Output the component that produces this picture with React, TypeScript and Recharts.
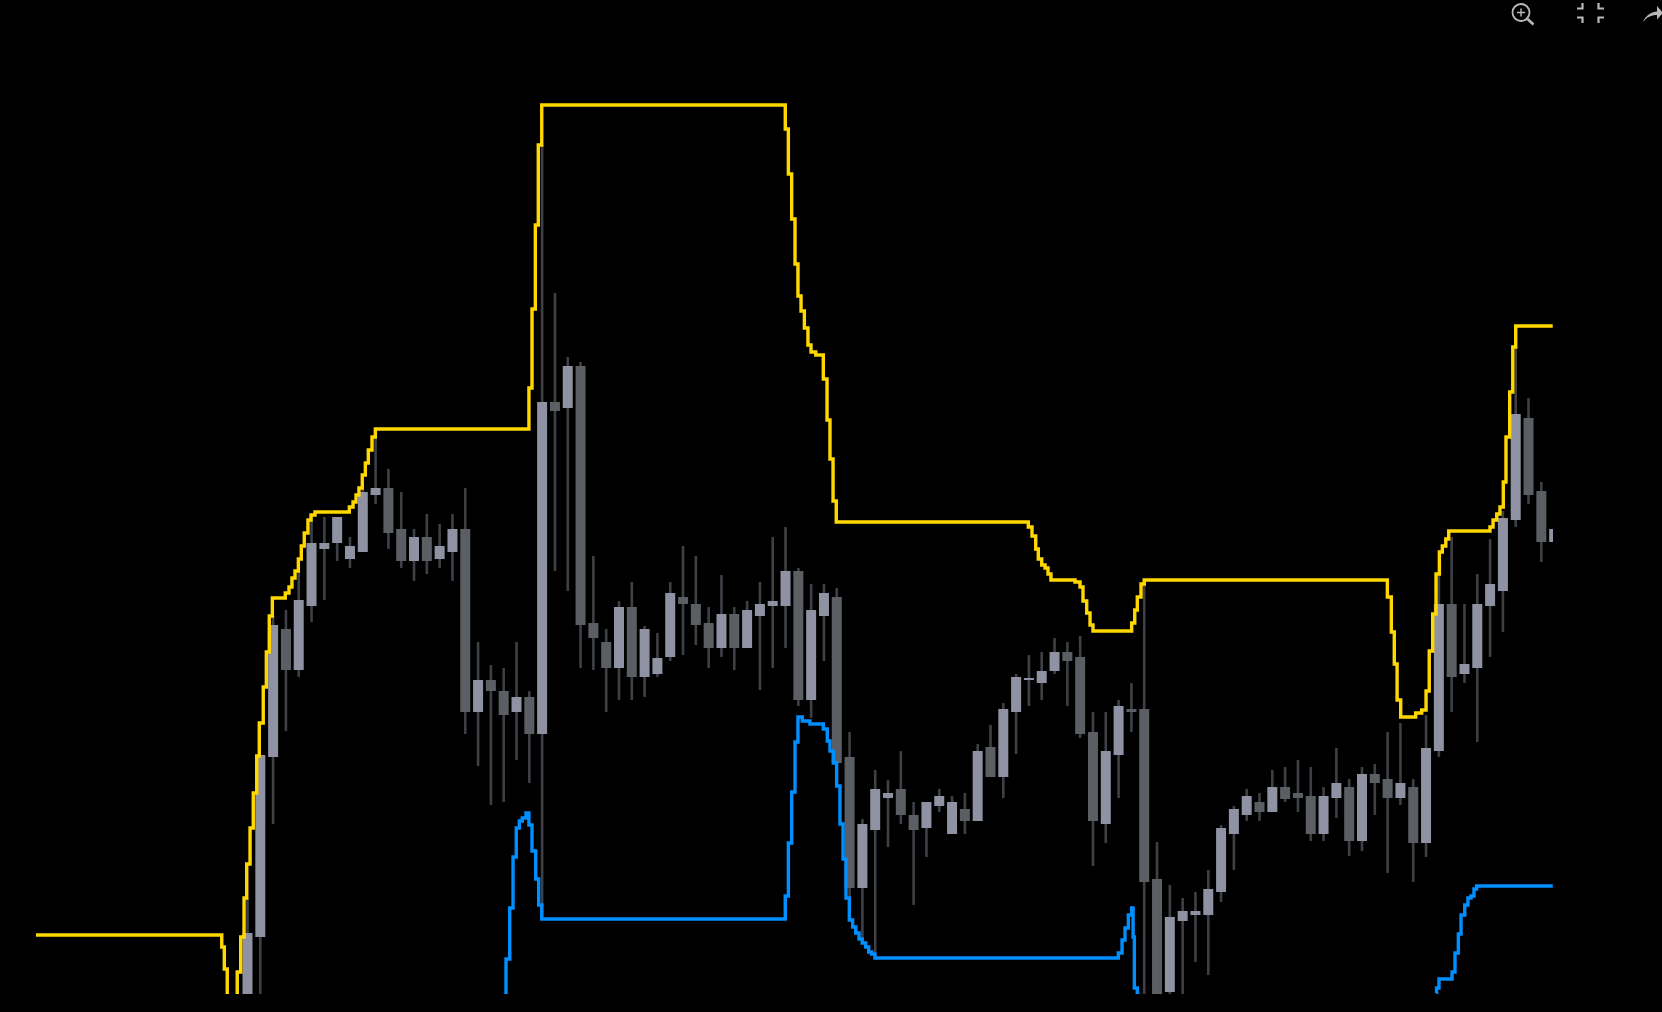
import { Bar, ComposedChart, Line, XAxis, YAxis } from "recharts";

const opens = [
  1.8, 7.5, 25.5, 38.3, 34.2, 40.6, 46.3, 46.9, 45.3, 46.0, 51.7, 52.4, 48.3, 45.1, 47.5, 45.3, 46.0, 48.3, 30.0, 33.2,
  32.1, 30.0, 31.5, 27.8, 61.0, 60.4, 64.6, 38.9, 37.0, 34.4, 40.5, 33.5, 33.8, 35.5, 41.5, 40.8, 38.9, 36.4, 39.8, 36.4,
  39.6, 40.6, 40.6, 44.1, 31.2, 39.6, 41.5, 25.5, 12.4, 18.2, 21.4, 22.3, 19.7, 18.4, 20.6, 17.8, 20.3, 19.1, 26.5, 23.5,
  30.0, 33.2, 32.9, 34.1, 36.0, 35.5, 28.0, 18.8, 25.7, 30.3, 30.3, 13.3, 2.0, 9.1, 9.7, 9.7, 12.0, 17.8, 19.7, 21.0,
  20.0, 22.5, 21.9, 21.6, 17.8, 21.4, 22.5, 17.1, 23.8, 23.3, 21.4, 22.5, 16.9, 26.1, 40.8, 33.8, 34.4, 40.6, 42.1, 49.2,
  59.4, 52.1, 47.0,
];
const closes = [
  7.9, 25.7, 38.7, 34.2, 41.2, 46.9, 46.9, 49.5, 46.6, 52.0, 52.4, 47.9, 45.1, 47.5, 45.1, 46.6, 48.3, 30.0, 33.2, 32.1,
  29.7, 31.5, 27.8, 61.0, 60.1, 64.6, 38.7, 37.4, 34.4, 40.5, 33.5, 38.3, 35.4, 41.9, 40.8, 38.7, 36.4, 39.8, 36.4, 40.2,
  40.8, 41.1, 44.1, 31.2, 40.2, 41.9, 24.9, 12.4, 18.8, 22.3, 21.9, 19.7, 18.2, 21.0, 21.6, 21.0, 19.1, 26.1, 23.5, 30.3,
  33.5, 33.4, 34.1, 36.0, 35.1, 27.8, 19.1, 26.1, 30.6, 30.0, 13.0, 1.8, 9.5, 10.1, 10.1, 12.3, 18.4, 20.3, 21.6, 20.0,
  22.5, 21.3, 21.4, 17.8, 21.6, 22.9, 17.1, 23.8, 22.9, 21.4, 22.9, 16.9, 26.4, 40.8, 33.5, 34.8, 40.8, 42.8, 49.4, 59.8,
  51.7, 47.0, 48.3,
];
const highs = [
  11.4, 25.7, 39.6, 40.2, 44.0, 49.7, 49.5, 49.5, 47.5, 52.4, 57.9, 54.3, 52.0, 48.3, 49.8, 48.8, 49.8, 52.4, 37.0, 34.7,
  34.4, 37.0, 32.1, 86.7, 71.9, 65.5, 65.0, 45.6, 38.3, 41.1, 43.0, 38.6, 37.9, 43.0, 46.6, 45.6, 40.5, 43.7, 40.5, 41.1,
  43.0, 47.5, 48.5, 44.4, 42.8, 42.8, 42.4, 28.0, 19.3, 24.2, 23.2, 26.1, 21.0, 21.0, 22.3, 21.6, 21.9, 26.8, 28.7, 30.9,
  33.8, 35.7, 36.0, 37.4, 37.0, 37.6, 30.0, 30.0, 31.2, 32.9, 43.2, 17.0, 12.7, 11.4, 12.0, 14.2, 18.7, 20.6, 22.3, 21.9,
  24.2, 24.5, 25.2, 24.5, 22.5, 26.4, 23.3, 24.5, 24.8, 28.0, 28.9, 23.3, 29.7, 43.7, 47.5, 40.8, 43.8, 47.3, 50.1, 66.5,
  61.4, 53.0, 48.3,
];
const lows = [
  1.8, 1.8, 18.8, 28.1, 33.5, 39.0, 41.2, 45.1, 44.4, 46.0, 50.8, 46.3, 44.4, 43.1, 43.8, 44.4, 43.1, 27.8, 24.6, 20.7,
  21.0, 25.2, 22.9, 9.5, 44.1, 42.1, 34.4, 34.2, 30.0, 31.2, 31.2, 31.5, 33.5, 35.1, 35.7, 36.7, 34.4, 35.5, 34.2, 36.4,
  32.2, 34.4, 36.4, 30.6, 29.4, 35.1, 24.9, 11.4, 7.5, 6.0, 16.5, 18.8, 10.7, 15.5, 20.0, 17.8, 17.8, 19.1, 23.5, 21.4,
  25.8, 30.6, 31.2, 33.8, 30.6, 27.4, 14.6, 16.9, 21.4, 28.0, 1.8, 1.8, 1.8, 1.8, 5.0, 3.7, 11.0, 14.2, 19.1, 19.1,
  20.0, 21.0, 20.0, 17.1, 17.1, 19.4, 15.6, 16.1, 19.7, 13.9, 20.7, 13.0, 15.5, 25.5, 30.0, 32.9, 27.0, 35.5, 38.0, 48.5,
  50.8, 45.0, 47.0,
];

// upper channel, x is in bars (four samples a bar), null where it leaves the view
const upperBars = [
  -16.51, -2.01, -1.81, -1.58, -1.2, -0.86, -0.8, -0.53, -0.27, -0.06, 0.2, 0.45, 0.72, 0.92, 1.23, 1.47, 1.7, 1.94,
  2.95, 3.24, 3.47, 3.71, 3.97, 4.2, 4.43, 4.72, 4.96, 5.27, 7.95, 8.24, 8.47, 8.7, 8.96, 9.2, 9.43, 9.72, 9.98,
  21.97, 22.21, 22.47, 22.7, 22.97, 41.98, 42.22, 42.48, 42.74, 42.97, 43.21, 43.47, 43.75, 43.99, 44.36, 44.95,
  45.24, 45.47, 45.71, 45.96, 60.95, 61.24, 61.53, 61.73, 62.0, 62.26, 62.49, 62.72, 64.6, 64.99, 65.22, 65.51,
  65.77, 66.0, 69.02, 69.26, 69.46, 69.75, 70.0, 88.98, 89.29, 89.52, 89.74, 90.02, 91.19, 91.66, 92.0, 92.25,
  92.52, 92.78, 93.04, 93.27, 93.54, 93.77, 96.99, 97.23, 97.52, 97.77, 98.03, 98.24, 98.53, 98.77, 99.0, 101.89,
];
const upperPrices = [
  7.7, 6.5, 4.3, 1.8, null, 1.8, 4.0, 7.5, 11.4, 14.8, 18.4, 21.9, 25.6, 28.9, 32.5, 36.0, 39.6, 41.4,
  41.9, 42.5, 43.4, 44.1, 45.3, 46.6, 47.9, 49.2, 49.7, 50.0, 50.5, 51.0, 51.7, 52.4, 53.7, 54.9, 56.2, 57.5, 58.3,
  62.4, 70.3, 78.7, 86.7, 90.7, 88.3, 83.8, 79.3, 74.8, 71.6, 70.1, 68.4, 66.7, 66.0, 65.7, 63.3,
  59.2, 55.3, 51.1, 49.0, 48.5, 47.6, 46.3, 45.3, 44.7, 44.4, 43.8, 43.2, 43.0, 42.5, 41.1, 39.9,
  38.7, 38.1, 38.9, 40.2, 41.5, 42.8, 43.2, 41.5, 38.0, 34.8, 31.2, 29.5, 29.9, 30.2, 32.1, 36.1,
  39.8, 43.8, 46.0, 46.6, 47.3, 48.1, 48.5, 49.2, 49.8, 50.5, 53.0, 57.5, 62.0, 66.5, 68.6, 68.6,
];

// lower channel
const lowerBars = [
  20.1, 20.18, 20.47, 20.73, 20.98, 21.22, 21.45, 21.74, 21.97, 22.21, 22.5, 22.73, 22.97, 41.98, 42.22, 42.48, 42.74,
  42.97, 43.31, 43.91, 44.95, 45.26, 45.47, 45.73, 45.99, 46.25, 46.49, 46.72, 46.98, 47.24, 47.48, 47.74, 47.99,
  48.26, 48.49, 48.73, 48.98, 67.98, 68.27, 68.5, 68.76, 69.02, 69.13, 69.23, 69.46, 69.62, 80.0, 92.78, 92.82, 93.01,
  94.03, 94.26, 94.52, 94.73, 95.02, 95.27, 95.51, 95.74, 95.95, 101.89,
];
const lowerPrices = [
  1.8, 5.3, 10.4, 15.5, 18.4, 19.1, 19.4, 19.9, 18.7, 16.1, 13.3, 10.7, 9.3, 11.6, 16.9, 22.0, 27.0,
  29.5, 29.1, 28.8, 28.3, 27.1, 26.1, 24.9, 22.6, 18.8, 15.3, 11.4, 9.2, 8.5, 7.9, 7.3, 6.9,
  6.5, 6.0, 5.8, 5.4, 5.9, 7.2, 8.4, 9.7, 10.4, 7.5, 2.4, 1.9, 1.9, null, 1.9, 2.4, 3.3,
  4.0, 5.9, 7.8, 9.7, 10.7, 11.4, 11.6, 12.3, 12.6, 12.6,
];

const candles = opens.map((open, i) => ({
  bar: i,
  open,
  close: closes[i],
  high: highs[i],
  low: lows[i],
}));
const upperLine = upperBars.map((bar, i) => ({ bar, price: upperPrices[i] }));
const lowerLine = lowerBars.map((bar, i) => ({ bar, price: lowerPrices[i] }));

const UP_BODY = "#8e92a2";
const DOWN_BODY = "#5b5e63";
const WICK = "#3f4046";
const BODY_WIDTH = 10;
const WICK_WIDTH = 2.6;

// Bar gives the low-high rect, the body is placed inside it.
// The bar width comes out tiny because the line samples share the x axis, so only its centre is used.
const Candle = (props: any) => {
  const { x, y, width, height, payload } = props;
  const { open, close, high, low } = payload;
  const perUnit = height / (high - low);
  const bodyTop = y + (high - Math.max(open, close)) * perUnit;
  const bodyHeight = Math.max(Math.abs(open - close) * perUnit, 1.5);
  const center = x + width / 2;
  return (
    <g>
      <rect x={center - WICK_WIDTH / 2} y={y} width={WICK_WIDTH} height={height} fill={WICK} />
      <rect
        x={center - BODY_WIDTH / 2}
        y={bodyTop}
        width={BODY_WIDTH}
        height={bodyHeight}
        fill={close >= open ? UP_BODY : DOWN_BODY}
      />
    </g>
  );
};

const Toolbar = () => (
  <svg
    width={1662}
    height={40}
    style={{ position: "absolute", left: 0, top: 0 }}
    fill="none"
    stroke="#b9b9b9"
  >
    <circle cx={1521} cy={12.5} r={8.5} strokeWidth={1.8} />
    <path d="M1517 12.5h8M1521 8.5v8" strokeWidth={1.4} />
    <path d="M1527.5 19l6 5.5" strokeWidth={2.6} />
    <path
      d="M1577 8.5h5.5v-5.5M1604 8.5h-5.5v-5.5M1577 17.5h5.5v5.5M1604 17.5h-5.5v5.5"
      strokeWidth={2.2}
    />
    <path
      d="M1643 22c2-6 8-10 14-10.5V6l6 7-6 6.5v-4.500c-6 0-10 2-14 7z"
      fill="#b9b9b9"
      stroke="none"
    />
  </svg>
);

export default function App() {
  return (
    <div style={{ position: "fixed", inset: 0, background: "#000", overflow: "hidden" }}>
      <div style={{ width: 1553, height: 994, overflow: "hidden" }}>
        <ComposedChart
          width={1553}
          height={994}
          data={candles}
          margin={{ top: 0, right: 0, bottom: 0, left: 0 }}
        >
          <XAxis
            hide
            type="number"
            dataKey="bar"
            domain={[-19.32, 101.91]}
            allowDataOverflow
          />
          <YAxis hide type="number" domain={[1.8, 101.2]} allowDataOverflow />
          <Bar
            dataKey={(d: any) => [d.low, d.high]}
            barSize={10}
            shape={<Candle />}
            isAnimationActive={false}
          />
          <Line
            data={upperLine}
            dataKey="price"
            type="stepAfter"
            stroke="#ffd800"
            strokeWidth={3.4}
            strokeLinejoin="miter"
            dot={false}
            activeDot={false}
            connectNulls={false}
            isAnimationActive={false}
          />
          <Line
            data={lowerLine}
            dataKey="price"
            type="stepAfter"
            stroke="#008fff"
            strokeWidth={3.4}
            strokeLinejoin="miter"
            dot={false}
            activeDot={false}
            connectNulls={false}
            isAnimationActive={false}
          />
        </ComposedChart>
      </div>
      <Toolbar />
    </div>
  );
}
